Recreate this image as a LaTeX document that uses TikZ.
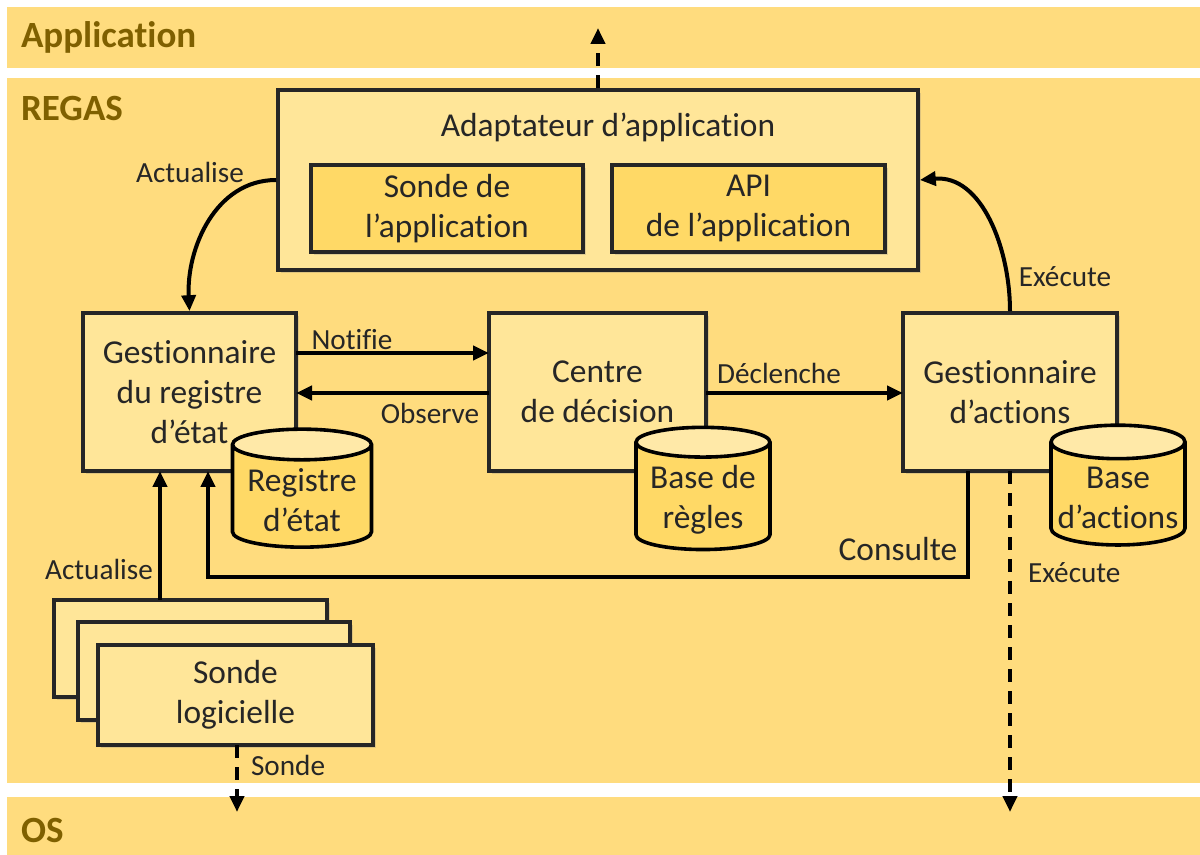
\documentclass[tikz,border=0pt]{standalone}
\usepackage{fontspec}
\setmainfont{Carlito}[Ligatures={NoCommon}]
\usetikzlibrary{shapes.geometric,arrows.meta,shadows}

\definecolor{bandfill}{HTML}{FFDC7E}
\definecolor{boxfill}{HTML}{FFE699}
\definecolor{innerfill}{HTML}{FFD966}
\definecolor{cyltop}{HTML}{FFE9A8}
\definecolor{titlecol}{HTML}{7F6000}
\definecolor{inkcol}{HTML}{262626}

\tikzset{
  band/.style={fill=bandfill, draw=none},
  bandtitle/.style={anchor=west, font=\fontsize{18.5}{22}\selectfont\bfseries, text=titlecol},
  block/.style={draw=inkcol, line width=1.8pt, fill=boxfill, align=center,
    font=\fontsize{16.7}{20}\selectfont, text=inkcol,
    drop shadow={opacity=0.25, shadow xshift=1.5pt, shadow yshift=-1.5pt}},
  inner/.style={block, fill=innerfill},
  store/.style={cylinder, shape border rotate=90, aspect=0.25, draw=black, line width=1.8pt,
    cylinder uses custom fill, cylinder body fill=innerfill, cylinder end fill=cyltop,
    align=center, font=\fontsize{16.7}{20}\selectfont, text=inkcol},
  lbl/.style={font=\fontsize{14.6}{17}\selectfont, text=inkcol},
  flow/.style={line width=2pt, -{Triangle[length=8pt,width=7pt]}},
  probe/.style={flow, dash pattern=on 6.5pt off 4.5pt},
}

\begin{document}
\begin{tikzpicture}[x=0.5pt, y=-0.5pt]
  \useasboundingbox (0,0) rectangle (1200,855);
  \fill[white] (0,0) rectangle (1200,855);

  % layers
  \fill[band] (7,7) rectangle (1200,68);
  \fill[band] (7,78) rectangle (1200,783);
  \fill[band] (7,797) rectangle (1200,855);
  \node[bandtitle] (tapp) at (14,37) {Application};
  \node[bandtitle] (tregas) at (14,108) {REGAS};
  \node[bandtitle] (tos) at (14,830) {OS};

  % adapter
  \node[block, minimum width=320pt, minimum height=90pt] (adapt) at (598,180) {};
  \node[lbl, font=\fontsize{16.7}{20}\selectfont] (adapttxt) at (608,127) {Adaptateur d’application};
  \node[inner, minimum width=136pt, minimum height=43.5pt] (sondeapp) at (447,208.5) {Sonde de\\l’application};
  \node[inner, minimum width=136.5pt, minimum height=43.5pt] (api) at (748.5,208.5) {API\\de l’application};

  % managers
  \node[block, minimum width=106.5pt, minimum height=79pt] (gestreg) at (189.5,392) {Gestionnaire\\du registre\\d’état};
  \node[block, minimum width=108.5pt, minimum height=79pt] (centre) at (597.5,392) {Centre\\de décision};
  \node[block, minimum width=107pt, minimum height=79pt] (gestact) at (1010,392) {Gestionnaire\\d’actions};

  \node[store, minimum width=69.5pt, minimum height=59pt] (regetat) at (302,500) {Registre\\d’état};
  \node[store, minimum width=67pt, minimum height=59pt] (regles) at (703,500) {Base de\\règles};
  \node[store, minimum width=67pt, minimum height=59pt] (baseact) at (1118,498) {Base\\d’actions};

  % probes
  \node[block, minimum width=136.5pt, minimum height=48.5pt] (sonde1) at (190.5,648.5) {};
  \node[block, minimum width=136pt, minimum height=49pt] (sonde2) at (214,671) {};
  \node[block, minimum width=137.5pt, minimum height=50pt] (sonde3) at (235.5,695) {Sonde\\logicielle};

  % coordinates
  \coordinate (upend) at (598,28);
  \coordinate (osend) at (237,812);
  \coordinate (exend) at (1010,812);
  \coordinate (c1) at (968,577);
  \coordinate (c2) at (208,577);

  % links
  \draw[flow] (adapt.west) to[out=180, in=93] (gestreg.north);
  \draw[flow] (gestact.north) to[out=90, in=5] (adapt.east);
  \draw[flow] (296,353) -- (489,353);
  \draw[flow] (489,393) -- (296,393);
  \draw[flow] (706,393) -- (903,393);
  \draw[flow] (968,471) -- (c1) -- (c2) -- (208,471);
  \draw[flow] (160,600) -- (160,471);
  \draw[probe] (adapt.north) -- (upend);
  \draw[probe] (237,745) -- (osend);
  \draw[probe] (1010,471) -- (exend);

  % labels
  \node[lbl] (l1) at (190,172) {Actualise};
  \node[lbl] (l2) at (1065,277) {Exécute};
  \node[lbl] (l3) at (352,340) {Notifie};
  \node[lbl] (l4) at (430,413) {Observe};
  \node[lbl] (l5) at (779,373) {Déclenche};
  \node[lbl, font=\fontsize{16.7}{20}\selectfont] (l6) at (898,549) {Consulte};
  \node[lbl] (l7) at (99,569) {Actualise};
  \node[lbl, anchor=west] (l8) at (244,765) {Sonde};
  \node[lbl, anchor=west] (l9) at (1021,573) {Exécute};
\end{tikzpicture}
\end{document}
